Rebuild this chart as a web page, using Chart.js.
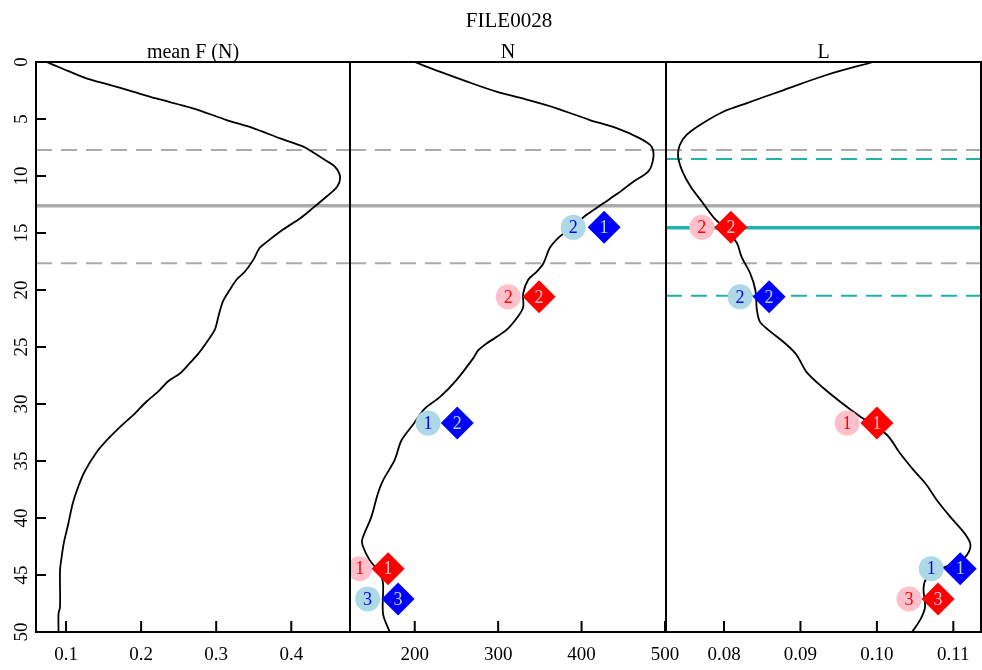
<!DOCTYPE html>
<html>
<head>
<meta charset="utf-8">
<script src="https://cdn.jsdelivr.net/npm/chart.js@4.4.0/dist/chart.umd.min.js"></script>
<style>
html, body { margin: 0; padding: 0; background: #fff; }
#wrap { position: relative; width: 982px; height: 670px; background: #fff; }
#wrap canvas { position: absolute; left: 0; top: 0; }
</style>
</head>
<body>
<div id="wrap">
  <canvas id="c1" width="982" height="670"></canvas>
  <canvas id="c2" width="982" height="670"></canvas>
  <canvas id="c3" width="982" height="670"></canvas>
</div>
<script>
// ---------- texts ----------
const mainTitle = 'FILE0028';
const panelTitles = ['mean F (N)', 'N', 'L'];

// ---------- tick values / labels ----------
const depthTicks = [0, 5, 10, 15, 20, 25, 30, 35, 40, 45, 50];
const depthTickLabels = ['0', '5', '10', '15', '20', '25', '30', '35', '40', '45', '50'];
const fTicks = [0.1, 0.2, 0.3, 0.4];
const fTickLabels = ['0.1', '0.2', '0.3', '0.4'];
const nTicks = [200, 300, 400, 500];
const nTickLabels = ['200', '300', '400', '500'];
const lTicks = [0.08, 0.09, 0.10, 0.11];
const lTickLabels = ['0.08', '0.09', '0.10', '0.11'];

// ---------- profiles (depth vs value) ----------
const fDepth = [0, 0.55, 1.43, 2.0, 2.6, 3.2, 4.06, 5.09, 5.8, 6.7, 7.43, 7.72, 8.6, 9.18, 10.06, 10.94, 11.8, 12.8, 13.7, 14.7, 15.8, 16.3, 17.4, 18.4, 19.1, 20.0, 21.0, 22.3, 23.5, 24.8, 25.6, 26.4, 27.3, 28.0, 28.9, 29.8, 31.0, 32.0, 33.2, 34.3, 35.9, 37.3, 38.7, 40.5, 42.2, 43.5, 44.6, 47.8, 48.4, 50];
const fValue = [0.074, 0.094, 0.127, 0.158, 0.189, 0.220, 0.269, 0.314, 0.349, 0.385, 0.416, 0.424, 0.445, 0.458, 0.465, 0.461, 0.447, 0.429, 0.412, 0.389, 0.367, 0.358, 0.349, 0.338, 0.327, 0.318, 0.309, 0.303, 0.298, 0.285, 0.276, 0.265, 0.252, 0.236, 0.223, 0.207, 0.189, 0.172, 0.154, 0.140, 0.125, 0.116, 0.109, 0.103, 0.097, 0.094, 0.092, 0.092, 0.090, 0.090];

const nDepth = [0, 0.85, 1.7, 2.6, 3.3, 4.06, 5.09, 5.8, 6.7, 7.43, 8.4, 9.6, 10.5, 11.5, 12.4, 13.4, 14.4, 15.3, 16.3, 17.7, 18.4, 19.1, 20.3, 21.5, 22.3, 23.5, 24.7, 25.3, 26.0, 27.9, 29.4, 30.4, 31.8, 33.2, 34.9, 36.7, 37.8, 39.9, 41.9, 42.5, 43.7, 44.8, 45.7, 48.4, 50];
const nValue = [200, 230, 262, 298, 334, 370, 410, 442, 470, 484, 486, 480, 462, 444, 426, 406, 390, 374, 362, 354, 346, 336, 330, 330, 324, 310, 286, 276, 270, 250, 230, 212, 198, 184, 176, 162, 156, 148, 137, 138, 146, 158, 162, 162, 170];

const lDepth = [0, 1.14, 2.46, 3.6, 4.36, 5.5, 6.4, 7.3, 8.3, 9.5, 10.9, 12.25, 13.6, 14.7, 15.9, 17.1, 18.5, 20.0, 21.75, 22.8, 23.5, 24.8, 25.7, 27.2, 28.6, 29.8, 31.1, 32.7, 34.3, 35.8, 37.1, 38.4, 39.9, 41.2, 42.2, 43.0, 43.8, 44.4, 45.3, 46.2, 47.8, 48.9, 50];
const lValue = [0.0995, 0.0934, 0.0878, 0.0830, 0.0799, 0.0769, 0.0751, 0.0742, 0.0740, 0.0745, 0.0756, 0.0771, 0.0786, 0.0803, 0.0817, 0.0823, 0.0834, 0.0841, 0.0843, 0.0847, 0.0858, 0.0882, 0.0895, 0.0908, 0.0930, 0.0952, 0.0978, 0.1013, 0.1030, 0.1048, 0.1065, 0.1078, 0.1096, 0.1113, 0.1122, 0.1120, 0.1109, 0.1085, 0.1065, 0.1061, 0.1063, 0.1057, 0.1046];

// ---------- horizontal reference depths ----------
const grayDashedDepths = [7.72, 17.66];
const graySolidDepths = [12.6];
const tealDashedDepths = [8.5, 20.5];
const tealSolidDepths = [14.53];

// ---------- markers, N panel ----------
const nLightBlueDepth = [14.5, 31.67, 47.1];
const nLightBlueValue = [390, 216, 143.5];
const nLightBlueLabel = ['2', '1', '3'];
const nBlueDepth = [14.5, 31.67, 47.1];
const nBlueValue = [427, 251, 180];
const nBlueLabel = ['1', '2', '3'];
const nPinkDepth = [20.6, 44.45];
const nPinkValue = [312, 134];
const nPinkLabel = ['2', '1'];
const nRedDepth = [20.6, 44.45];
const nRedValue = [349, 168];
const nRedLabel = ['2', '1'];

// ---------- markers, L panel ----------
const lPinkDepth = [14.5, 31.67, 47.1];
const lPinkValue = [0.0771, 0.0961, 0.1042];
const lPinkLabel = ['2', '1', '3'];
const lRedDepth = [14.5, 31.67, 47.1];
const lRedValue = [0.0809, 0.1000, 0.1080];
const lRedLabel = ['2', '1', '3'];
const lLightBlueDepth = [20.6, 44.45];
const lLightBlueValue = [0.0821, 0.1071];
const lLightBlueLabel = ['2', '1'];
const lBlueDepth = [20.6, 44.45];
const lBlueValue = [0.0859, 0.1109];
const lBlueLabel = ['2', '1'];

// ---------- styling ----------
const FONT = '"Liberation Serif", "Times New Roman", Times, serif';
const GRAY = '#ABABAB';
const TEAL = '#20B2AA';
const LIGHTBLUE = '#ADD8E6';
const BLUE = '#0000FF';
const PINK = '#FFC0CB';
const RED = '#FF0000';

function zip(xs, ys) { return xs.map((x, i) => ({ x: x, y: ys[i] })); }

function hLine(depth, xmin, xmax, color, width, dash) {
  return {
    data: [{ x: xmin, y: depth }, { x: xmax, y: depth }],
    showLine: true, borderColor: color, borderWidth: width, borderDash: dash,
    pointRadius: 0, pointHoverRadius: 0, order: 10, fill: false, tension: 0
  };
}

function markerSet(values, depths, labels, style, fillColor, textColor, radius) {
  return {
    data: zip(values, depths),
    showLine: false, pointStyle: style, pointRadius: radius, pointHoverRadius: radius,
    backgroundColor: fillColor, borderColor: fillColor, borderWidth: 0,
    markLabels: labels, markTextColor: textColor,
    order: style === 'circle' ? 2 : 1
  };
}

function makePanel(cfg) {
  const datasets = [];
  cfg.grayDashed.forEach(d => datasets.push(hLine(d, cfg.xmin, cfg.xmax, GRAY, 2, [16, 9])));
  cfg.graySolid.forEach(d => datasets.push(hLine(d, cfg.xmin, cfg.xmax, GRAY, 3.5, [])));
  (cfg.tealDashed || []).forEach(d => datasets.push(hLine(d, cfg.xmin, cfg.xmax, TEAL, 2, [16, 9])));
  (cfg.tealSolid || []).forEach(d => datasets.push(hLine(d, cfg.xmin, cfg.xmax, TEAL, 3.5, [])));
  datasets.push({
    data: zip(cfg.values, cfg.depths), showLine: true, borderColor: '#000', borderWidth: 1.8,
    pointRadius: 0, pointHoverRadius: 0, order: 5, fill: false, tension: 0.3
  });
  (cfg.markers || []).forEach(m => datasets.push(m));

  const panelPlugin = {
    id: 'panelDeco' + cfg.idx,
    afterDatasetsDraw(chart) {
      const ctx = chart.ctx;
      chart.data.datasets.forEach((ds, i) => {
        if (!ds.markLabels) return;
        const meta = chart.getDatasetMeta(i);
        ctx.save();
        ctx.font = '18px ' + FONT;
        ctx.fillStyle = ds.markTextColor;
        ctx.textAlign = 'center';
        ctx.textBaseline = 'middle';
        meta.data.forEach((pt, j) => ctx.fillText(ds.markLabels[j], pt.x, pt.y + 1));
        ctx.restore();
      });
    },
    afterDraw(chart) {
      const ctx = chart.ctx;
      const a = chart.chartArea;
      const xs = chart.scales.x;
      const ys = chart.scales.y;
      ctx.save();
      // panel box
      ctx.strokeStyle = '#000';
      ctx.lineWidth = 2;
      ctx.strokeRect(a.left, a.top, a.right - a.left, a.bottom - a.top);
      // inward x ticks
      ctx.beginPath();
      cfg.ticks.forEach(v => {
        const px = xs.getPixelForValue(v);
        ctx.moveTo(px, a.bottom);
        ctx.lineTo(px, a.bottom - 11);
      });
      ctx.stroke();
      ctx.fillStyle = '#000';
      ctx.font = '19px ' + FONT;
      ctx.textAlign = 'center';
      ctx.textBaseline = 'alphabetic';
      cfg.ticks.forEach((v, i) => ctx.fillText(cfg.tickLabels[i], xs.getPixelForValue(v), 660));
      // panel title
      ctx.font = '20px ' + FONT;
      ctx.fillText(cfg.title, (a.left + a.right) / 2, 58);
      if (cfg.mainTitle) {
        ctx.font = '21px ' + FONT;
        ctx.fillText(cfg.mainTitle, (a.left + a.right) / 2 + 1, 27);
      }
      // depth axis
      if (cfg.showDepth) {
        ctx.beginPath();
        depthTicks.forEach(v => {
          const py = ys.getPixelForValue(v);
          ctx.moveTo(a.left, py);
          ctx.lineTo(a.left + 10, py);
        });
        ctx.stroke();
        ctx.font = '19px ' + FONT;
        depthTicks.forEach((v, i) => {
          const py = ys.getPixelForValue(v);
          ctx.save();
          ctx.translate(27, py);
          ctx.rotate(-Math.PI / 2);
          ctx.textAlign = 'center';
          ctx.textBaseline = 'alphabetic';
          ctx.fillText(depthTickLabels[i], 0, 0);
          ctx.restore();
        });
      }
      ctx.restore();
    }
  };

  return new Chart(document.getElementById(cfg.canvas), {
    type: 'scatter',
    data: { datasets: datasets },
    options: {
      responsive: false,
      animation: false,
      events: [],
      layout: { padding: cfg.padding, autoPadding: false },
      plugins: { legend: { display: false }, tooltip: { enabled: false }, title: { display: false } },
      scales: {
        x: {
          type: 'linear', position: 'bottom', min: cfg.xmin, max: cfg.xmax,
          grid: { display: false }, border: { display: false },
          ticks: { display: false },
          afterBuildTicks: s => { s.ticks = cfg.ticks.map(v => ({ value: v })); },
          afterFit: s => { s.height = 38; }
        },
        y: {
          type: 'linear', position: 'left', reverse: true, min: 0, max: 50,
          display: cfg.showDepth,
          grid: { display: false }, border: { display: false },
          ticks: { display: false },
          afterBuildTicks: s => { s.ticks = depthTicks.map(v => ({ value: v })); },
          afterFit: s => { if (cfg.showDepth) s.width = 36; }
        }
      }
    },
    plugins: [panelPlugin]
  });
}

makePanel({
  idx: 1, canvas: 'c1', title: panelTitles[0], showDepth: true,
  xmin: 0.0600, xmax: 0.4782, ticks: fTicks, tickLabels: fTickLabels,
  depths: fDepth, values: fValue,
  grayDashed: grayDashedDepths, graySolid: graySolidDepths,
  padding: { left: 0, right: 632, top: 62, bottom: 0 }
});

makePanel({
  idx: 2, canvas: 'c2', title: panelTitles[1], mainTitle: mainTitle, showDepth: false,
  xmin: 122.4, xmax: 501.2, ticks: nTicks, tickLabels: nTickLabels,
  depths: nDepth, values: nValue,
  grayDashed: grayDashedDepths, graySolid: graySolidDepths,
  markers: [
    markerSet(nLightBlueValue, nLightBlueDepth, nLightBlueLabel, 'circle', LIGHTBLUE, BLUE, 12.5),
    markerSet(nPinkValue, nPinkDepth, nPinkLabel, 'circle', PINK, RED, 12.5),
    markerSet(nBlueValue, nBlueDepth, nBlueLabel, 'rectRot', BLUE, LIGHTBLUE, 16.5),
    markerSet(nRedValue, nRedDepth, nRedLabel, 'rectRot', RED, PINK, 16.5)
  ],
  padding: { left: 350, right: 316, top: 62, bottom: 0 }
});

makePanel({
  idx: 3, canvas: 'c3', title: panelTitles[2], showDepth: false,
  xmin: 0.07241, xmax: 0.11362, ticks: lTicks, tickLabels: lTickLabels,
  depths: lDepth, values: lValue,
  grayDashed: grayDashedDepths, graySolid: graySolidDepths,
  tealDashed: tealDashedDepths, tealSolid: tealSolidDepths,
  markers: [
    markerSet(lPinkValue, lPinkDepth, lPinkLabel, 'circle', PINK, RED, 12.5),
    markerSet(lLightBlueValue, lLightBlueDepth, lLightBlueLabel, 'circle', LIGHTBLUE, BLUE, 12.5),
    markerSet(lRedValue, lRedDepth, lRedLabel, 'rectRot', RED, PINK, 16.5),
    markerSet(lBlueValue, lBlueDepth, lBlueLabel, 'rectRot', BLUE, LIGHTBLUE, 16.5)
  ],
  padding: { left: 666, right: 1, top: 62, bottom: 0 }
});
</script>
</body>
</html>
